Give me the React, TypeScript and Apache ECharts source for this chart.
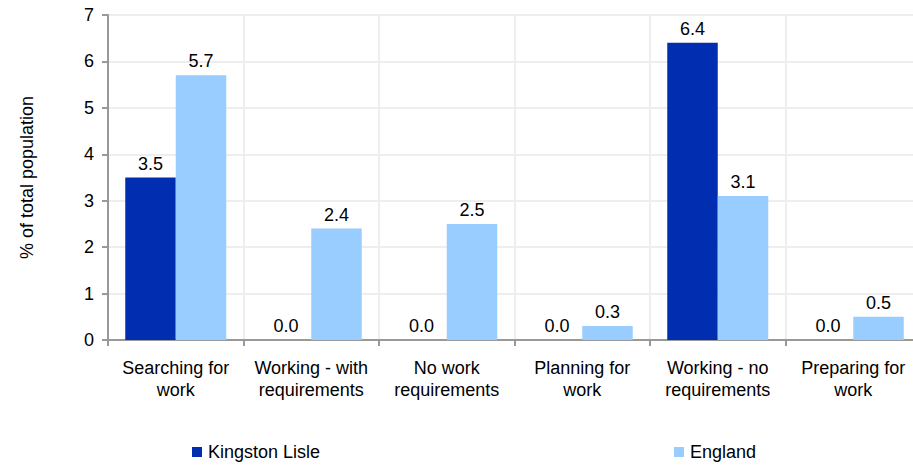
import React, { useEffect, useRef } from "react";
import * as echarts from "echarts";

const categories = [
  "Searching for\nwork",
  "Working - with\nrequirements",
  "No work\nrequirements",
  "Planning for\nwork",
  "Working - no\nrequirements",
  "Preparing for\nwork",
];
const kingstonLisle = [3.5, 0.0, 0.0, 0.0, 6.4, 0.0];
const england = [5.7, 2.4, 2.5, 0.3, 3.1, 0.5];
const seriesNames = ["Kingston Lisle", "England"];
const yTicks = [0, 1, 2, 3, 4, 5, 6, 7];

const FONT = "'Liberation Sans', Arial, sans-serif";
const FS = 18;

export default function App() {
  const ref = useRef<HTMLDivElement>(null);
  useEffect(() => {
    if (!ref.current) return;
    const chart = echarts.init(ref.current, null, { renderer: "svg" });
    const label = {
      show: true,
      position: "top",
      distance: 5,
      color: "#000",
      fontFamily: FONT,
      fontSize: FS,
      formatter: (p: any) => Number(p.value).toFixed(1),
    };
    const legendBase = {
      top: 443,
      icon: "rect",
      itemWidth: 10,
      itemHeight: 10,
      itemGap: 6,
      padding: 0,
      textStyle: { fontFamily: FONT, fontSize: FS, color: "#000", padding: [0, 0, 0, 1] },
    };
    chart.setOption({
      animation: false,
      textStyle: { fontFamily: FONT },
      grid: { left: 108, right: 9, top: 15, bottom: 125 },
      legend: [
        { ...legendBase, data: [seriesNames[0]], left: 192 },
        { ...legendBase, data: [seriesNames[1]], left: 674 },
      ],
      xAxis: {
        type: "category",
        data: categories,
        axisLine: { show: true, lineStyle: { color: "#999", width: 2 } },
        axisTick: { show: true, length: 6, lineStyle: { color: "#999", width: 2 } },
        splitLine: { show: true, lineStyle: { color: "#eeeeee", width: 2 } },
        axisLabel: {
          color: "#000",
          fontFamily: FONT,
          fontSize: FS,
          lineHeight: 22,
          margin: 17,
          interval: 0,
        },
      },
      yAxis: {
        type: "value",
        min: yTicks[0],
        max: yTicks[yTicks.length - 1],
        interval: 1,
        name: "% of total population",
        nameLocation: "middle",
        nameGap: 72,
        nameRotate: 90,
        nameTextStyle: { color: "#000", fontFamily: FONT, fontSize: FS },
        axisLine: { show: true, lineStyle: { color: "#999", width: 2 } },
        axisTick: { show: true, length: 6, lineStyle: { color: "#999", width: 2 } },
        splitLine: { show: true, lineStyle: { color: "#eeeeee", width: 2 } },
        axisLabel: { color: "#000", fontFamily: FONT, fontSize: FS, margin: 14 },
      },
      series: [
        {
          name: seriesNames[0],
          type: "bar",
          data: kingstonLisle,
          barWidth: 50.5,
          barGap: "0%",
          itemStyle: { color: "#012EB1" },
          label,
        },
        {
          name: seriesNames[1],
          type: "bar",
          data: england,
          barWidth: 50.5,
          barGap: "0%",
          itemStyle: { color: "#99CCFF" },
          label,
        },
      ],
    });
    return () => chart.dispose();
  }, []);
  return (
    <div
      style={{
        position: "absolute",
        left: 0,
        top: 0,
        width: 913,
        height: 465,
        overflow: "hidden",
      }}
    >
      <div ref={ref} style={{ width: 930, height: 465 }} />
    </div>
  );
}
